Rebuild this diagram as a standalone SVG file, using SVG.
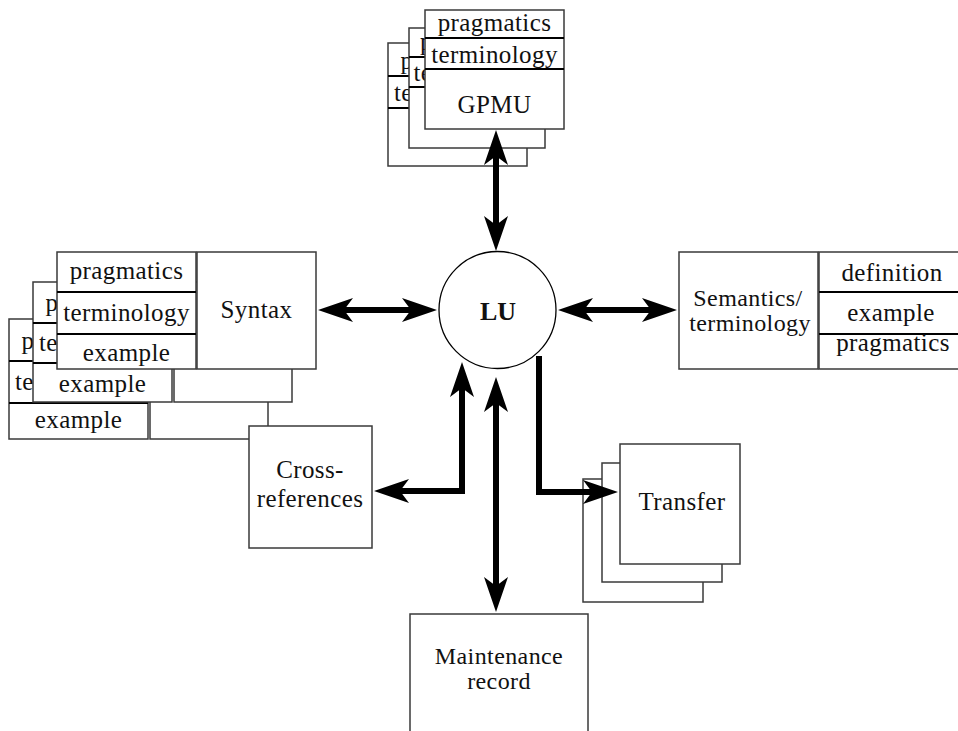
<svg xmlns="http://www.w3.org/2000/svg" width="958" height="731" viewBox="0 0 958 731">
<style>
.box{fill:#fff;stroke:#3a3a3a;stroke-width:1.5}
.div{stroke:#000;stroke-width:2}
.t{font-family:"Liberation Serif","Times New Roman",serif;font-size:25px;fill:#111;text-anchor:middle;letter-spacing:0.4px}
.s{text-anchor:start}
.m{font-size:24px}
.b{font-weight:bold;font-size:26px;letter-spacing:0}
.conn{fill:none;stroke:#000;stroke-width:6;stroke-linejoin:miter}
</style>
<defs>
<marker id="ah" markerUnits="userSpaceOnUse" markerWidth="38" markerHeight="28" viewBox="-10 -14 38 28" refX="0" refY="0" orient="auto-start-reverse">
<path d="M26,0 L-9,-12 L0,0 L-9,12 Z" fill="#000"/>
</marker>
</defs>
<rect width="958" height="731" fill="#fff"/>

<g id="gpmu-back">
<rect class="box" x="388" y="43" width="139" height="123"/>
<line class="div" x1="388" y1="76" x2="527" y2="76"/>
<line class="div" x1="388" y1="108" x2="527" y2="108"/>
<text class="t s" x="400.5" y="69">p</text>
<text class="t s" x="394" y="101">te</text>
</g>
<g id="gpmu-middle">
<rect class="box" x="409" y="28" width="136" height="120"/>
<line class="div" x1="409" y1="57" x2="545" y2="57"/>
<line class="div" x1="409" y1="87" x2="545" y2="87"/>
<text class="t s" x="420" y="50">p</text>
<text class="t s" x="413.5" y="81">te</text>
</g>
<g id="gpmu">
<rect class="box" x="425" y="10" width="139" height="119"/>
<line class="div" x1="425" y1="38" x2="564" y2="38"/>
<line class="div" x1="425" y1="69" x2="564" y2="69"/>
<text class="t" x="494.5" y="31">pragmatics</text>
<text class="t" x="494.5" y="63">terminology</text>
<text class="t" x="494.5" y="113">GPMU</text>
</g>

<g id="syntax-back">
<rect class="box" x="150" y="319" width="118" height="120"/>
<rect class="box" x="9" y="319" width="139" height="120"/>
<line class="div" x1="9" y1="361" x2="148" y2="361"/>
<line class="div" x1="9" y1="403" x2="148" y2="403"/>
<text class="t s" x="21.5" y="349">p</text>
<text class="t s" x="15" y="390">te</text>
<text class="t" x="78.5" y="428">example</text>
</g>
<g id="syntax-middle">
<rect class="box" x="174" y="282" width="118" height="120"/>
<rect class="box" x="33" y="282" width="139" height="120"/>
<line class="div" x1="33" y1="323" x2="172" y2="323"/>
<line class="div" x1="33" y1="363" x2="172" y2="363"/>
<text class="t s" x="45.5" y="311">p</text>
<text class="t s" x="39" y="351">te</text>
<text class="t" x="102.5" y="392">example</text>
</g>
<g id="syntax">
<rect class="box" x="197" y="252" width="119" height="117"/>
<rect class="box" x="57" y="252" width="139" height="117"/>
<line class="div" x1="57" y1="292" x2="196" y2="292"/>
<line class="div" x1="57" y1="334" x2="196" y2="334"/>
<text class="t" x="126.5" y="279">pragmatics</text>
<text class="t" x="126.5" y="321">terminology</text>
<text class="t" x="126.5" y="361">example</text>
<text class="t" x="256.5" y="318">Syntax</text>
</g>

<g id="cross-references">
<rect class="box" x="249" y="426" width="123" height="122"/>
<text class="t" x="310" y="478">Cross-</text>
<text class="t" x="310" y="507">references</text>
</g>

<g id="lu">
<circle cx="497.5" cy="310" r="58.5" fill="#fff" stroke="#000" stroke-width="1.3"/>
<text class="t b" x="498" y="320">LU</text>
</g>

<g id="semantics">
<rect class="box" x="679" y="252" width="139" height="117"/>
<text class="t m" x="748" y="306">Semantics/</text>
<text class="t m" x="750" y="331">terminology</text>
<rect class="box" x="819" y="252" width="145" height="117"/>
<line class="div" x1="819" y1="292" x2="964" y2="292"/>
<line class="div" x1="819" y1="334" x2="964" y2="334"/>
<text class="t" x="892" y="281">definition</text>
<text class="t" x="891" y="321">example</text>
<text class="t" x="893" y="351">pragmatics</text>
</g>

<g id="transfer-back">
<rect class="box" x="583" y="479" width="120" height="123"/>
</g>
<g id="transfer-middle">
<rect class="box" x="602" y="463" width="120" height="119"/>
</g>
<g id="transfer">
<rect class="box" x="620" y="444" width="120" height="120"/>
<text class="t" x="682" y="510">Transfer</text>
</g>

<g id="maintenance">
<rect class="box" x="410" y="614" width="178" height="140"/>
<text class="t m" x="499" y="664">Maintenance</text>
<text class="t m" x="499" y="689">record</text>
</g>

<g id="connectors">
<line class="conn" x1="496" y1="156" x2="496" y2="225" marker-start="url(#ah)" marker-end="url(#ah)"/>
<line class="conn" x1="344" y1="310" x2="411" y2="310" marker-start="url(#ah)" marker-end="url(#ah)"/>
<line class="conn" x1="584" y1="310" x2="651" y2="310" marker-start="url(#ah)" marker-end="url(#ah)"/>
<path class="conn" d="M462,388 L462,491 L400,491" marker-start="url(#ah)" marker-end="url(#ah)"/>
<line class="conn" x1="496" y1="403" x2="496" y2="586" marker-start="url(#ah)" marker-end="url(#ah)"/>
<path class="conn" d="M539,356 L539,492 L592,492" marker-end="url(#ah)"/>
</g>
</svg>
